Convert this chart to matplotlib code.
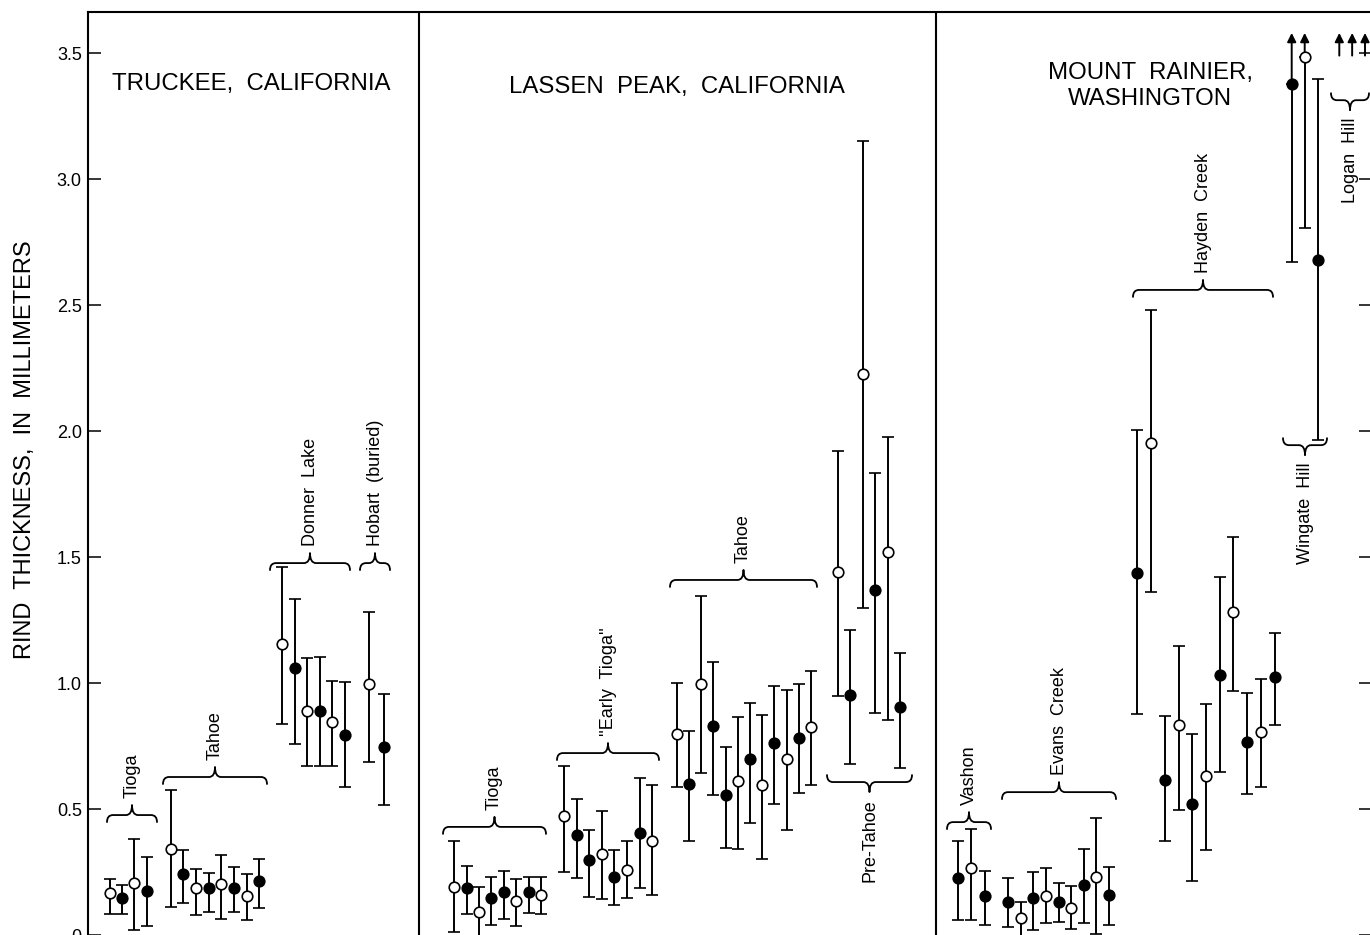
import matplotlib
matplotlib.use('Agg')
import matplotlib.pyplot as plt
from matplotlib.path import Path
from matplotlib.patches import PathPatch
import numpy as np

plt.rcParams['font.family'] = ['Liberation Sans', 'DejaVu Sans']

# ------------------------------------------------------------------ data
panel_titles = ['TRUCKEE,  CALIFORNIA', 'LASSEN  PEAK,  CALIFORNIA',
                'MOUNT  RAINIER,\nWASHINGTON']
y_label = 'RIND  THICKNESS,  IN  MILLIMETERS'
y_ticks = [0, 0.5, 1.0, 1.5, 2.0, 2.5, 3.0, 3.5]
y_tick_labels = ['0', '0.5', '1.0', '1.5', '2.0', '2.5', '3.0', '3.5']

group_labels = ['Tioga', 'Tahoe', 'Donner  Lake', 'Hobart  (buried)',
                'Tioga', "''Early  Tioga''", 'Tahoe', 'Pre-Tahoe',
                'Vashon', 'Evans  Creek', 'Hayden  Creek', 'Wingate  Hill',
                'Logan  Hill']

# Truckee, California
tr_tioga_mean = [0.165, 0.148, 0.208, 0.175]
tr_tioga_low = [0.083, 0.083, 0.02, 0.037]
tr_tioga_high = [0.222, 0.20, 0.382, 0.31]
tr_tioga_filled = [0, 1, 0, 1]

tr_tahoe_mean = [0.342, 0.242, 0.186, 0.188, 0.202, 0.188, 0.155, 0.214]
tr_tahoe_low = [0.11, 0.126, 0.079, 0.093, 0.062, 0.09, 0.06, 0.106]
tr_tahoe_high = [0.575, 0.336, 0.262, 0.245, 0.317, 0.268, 0.242, 0.303]
tr_tahoe_filled = [0, 1, 0, 1, 0, 1, 0, 1]

donner_mean = [1.153, 1.061, 0.89, 0.89, 0.844, 0.792]
donner_low = [0.838, 0.759, 0.669, 0.67, 0.669, 0.586]
donner_high = [1.46, 1.333, 1.098, 1.102, 1.009, 1.003]
donner_filled = [0, 1, 0, 1, 0, 1]

hobart_mean = [0.996, 0.747]
hobart_low = [0.688, 0.516]
hobart_high = [1.283, 0.956]
hobart_filled = [0, 1]

# Lassen Peak, California
la_tioga_mean = [0.192, 0.185, 0.093, 0.148, 0.172, 0.136, 0.172, 0.159]
la_tioga_low = [0.013, 0.083, -0.02, 0.04, 0.062, 0.036, 0.086, 0.083]
la_tioga_high = [0.373, 0.275, 0.189, 0.229, 0.255, 0.221, 0.231, 0.231]
la_tioga_filled = [0, 1, 0, 1, 1, 0, 1, 0]

early_mean = [0.473, 0.395, 0.298, 0.321, 0.231, 0.258, 0.403, 0.374]
early_low = [0.251, 0.225, 0.15, 0.142, 0.119, 0.146, 0.185, 0.159]
early_high = [0.671, 0.54, 0.417, 0.492, 0.337, 0.373, 0.622, 0.595]
early_filled = [0, 1, 1, 0, 1, 0, 1, 0]

la_tahoe_mean = [0.796, 0.599, 0.998, 0.831, 0.556, 0.611, 0.698, 0.595,
                 0.76, 0.698, 0.783, 0.827]
la_tahoe_low = [0.589, 0.373, 0.642, 0.556, 0.344, 0.34, 0.446, 0.302,
                0.52, 0.417, 0.565, 0.595]
la_tahoe_high = [1.001, 0.811, 1.345, 1.083, 0.747, 0.866, 0.919, 0.875,
                 0.989, 0.972, 0.996, 1.049]
la_tahoe_filled = [0, 1, 0, 1, 1, 0, 1, 0, 1, 0, 1, 0]

pre_tahoe_mean = [1.44, 0.952, 2.226, 1.369, 1.521, 0.903]
pre_tahoe_low = [0.948, 0.679, 1.298, 0.882, 0.853, 0.661]
pre_tahoe_high = [1.922, 1.21, 3.151, 1.835, 1.975, 1.12]
pre_tahoe_filled = [0, 1, 0, 1, 0, 1]

# Mount Rainier, Washington
vashon_mean = [0.225, 0.266, 0.153]
vashon_low = [0.06, 0.06, 0.04]
vashon_high = [0.374, 0.419, 0.255]
vashon_filled = [1, 0, 1]

evans_mean = [0.132, 0.069, 0.148, 0.155, 0.131, 0.106, 0.198, 0.231, 0.16]
evans_low = [0.03, -0.02, 0.02, 0.046, 0.05, 0.024, 0.046, 0.005, 0.04]
evans_high = [0.225, 0.129, 0.251, 0.265, 0.205, 0.196, 0.341, 0.466, 0.271]
evans_filled = [1, 0, 1, 0, 1, 0, 1, 0, 1]

hayden_mean = [1.435, 1.951, 0.615, 0.832, 0.519, 0.631, 1.032, 1.283,
               0.767, 0.806, 1.022]
hayden_low = [0.877, 1.362, 0.374, 0.496, 0.214, 0.337, 0.647, 0.968,
              0.56, 0.589, 0.833]
hayden_high = [2.004, 2.48, 0.87, 1.148, 0.796, 0.915, 1.422, 1.578,
               0.962, 1.016, 1.197]
hayden_filled = [1, 0, 1, 0, 1, 0, 1, 0, 1, 0, 1]

# np.inf = value runs off the top of the scale (drawn as an arrow)
wingate_mean = [3.377, 3.483, 2.679]
wingate_low = [2.672, 2.804, 1.964]
wingate_high = [np.inf, np.inf, 3.397]
wingate_filled = [1, 0, 1]

logan_mean = [np.inf, np.inf, np.inf]

groups = [
    (tr_tioga_mean, tr_tioga_low, tr_tioga_high, tr_tioga_filled),
    (tr_tahoe_mean, tr_tahoe_low, tr_tahoe_high, tr_tahoe_filled),
    (donner_mean, donner_low, donner_high, donner_filled),
    (hobart_mean, hobart_low, hobart_high, hobart_filled),
    (la_tioga_mean, la_tioga_low, la_tioga_high, la_tioga_filled),
    (early_mean, early_low, early_high, early_filled),
    (la_tahoe_mean, la_tahoe_low, la_tahoe_high, la_tahoe_filled),
    (pre_tahoe_mean, pre_tahoe_low, pre_tahoe_high, pre_tahoe_filled),
    (vashon_mean, vashon_low, vashon_high, vashon_filled),
    (evans_mean, evans_low, evans_high, evans_filled),
    (hayden_mean, hayden_low, hayden_high, hayden_filled),
    (wingate_mean, wingate_low, wingate_high, wingate_filled),
    (logan_mean, None, None, None),
]

# ------------------------------------------------------------------ layout
W, H, DPI = 1370, 935, 100
AX_LEFT_PX, AX_RIGHT_PX, AX_TOP_PX = 88, 1372, 12
Y_MAX = 3.663
# x axis is a plain horizontal position scale (no meaning); start, step
group_x = [(110, 12.2), (170.7, 12.66), (282.3, 12.54), (369, 15),
           (454.3, 12.39), (564, 12.6), (676.7, 12.2), (838, 12.4),
           (958, 13.3), (1008.3, 12.55), (1137.3, 13.74), (1291.7, 13),
           (1339.3, 12.85)]
# brace: x0, x1, y (mm), side
group_brace = [(107, 157, 0.476, 'up'), (163, 267, 0.627, 'up'),
               (270, 350, 1.476, 'up'), (360, 390, 1.476, 'up'),
               (443, 546, 0.429, 'up'), (557, 659, 0.722, 'up'),
               (670, 817, 1.409, 'up'), (827, 912, 0.607, 'down'),
               (947, 991, 0.448, 'up'), (1002, 1116, 0.567, 'up'),
               (1133, 1273, 2.56, 'up'), (1283, 1327, 1.944, 'down'),
               (1331, 1369, 3.313, 'down')]
panel_dividers = [419, 936]
title_pos = [(251.5, 3.377), (676.5, 3.365), (1150, 3.369)]
ARROW_TIP = 3.58
ARROW_BASE = 3.49

fig = plt.figure(figsize=(W / DPI, H / DPI), dpi=DPI)
ax = fig.add_axes([AX_LEFT_PX / W, 0, (AX_RIGHT_PX - AX_LEFT_PX) / W,
                   (H - AX_TOP_PX) / H])
ax.set_xlim(AX_LEFT_PX, AX_RIGHT_PX)
ax.set_ylim(0, Y_MAX)
px2y = Y_MAX / (H - AX_TOP_PX)

for s in ['left', 'top', 'right']:
    ax.spines[s].set_linewidth(1.5)
ax.spines['bottom'].set_visible(False)
ax.set_xticks([])
ax.set_yticks(y_ticks)
ax.set_yticklabels(y_tick_labels, fontsize=13)
ax.tick_params(axis='y', direction='in', length=9.5, width=1.1, pad=4.5,
               right=True, left=True)
ax.set_ylabel(y_label, fontsize=17)
ax.yaxis.set_label_coords(-(AX_LEFT_PX - 36) / (AX_RIGHT_PX - AX_LEFT_PX),
                          (H - 450) / (H - AX_TOP_PX))

for xd in panel_dividers:
    ax.axvline(xd, color='black', lw=1.5)

for (tx, ty), t in zip(title_pos, panel_titles):
    ax.text(tx, ty, t, ha='center', va='center', fontsize=17.3,
            linespacing=1.25)

EB = dict(ecolor='black', elinewidth=1.4, capsize=4.5, capthick=1.4,
          ms=7.6, mew=1.2, mec='black')


def brace(x0, x1, y, side, r=6, h_end=7, h_peak=10):
    s = 1 if side == 'up' else -1
    xm = 0.5 * (x0 + x1)
    verts = [(x0, y - s * h_end * px2y), (x0, y), (x0 + r, y),
             (xm - r, y), (xm, y), (xm, y + s * h_peak * px2y),
             (xm, y), (xm + r, y),
             (x1 - r, y), (x1, y), (x1, y - s * h_end * px2y)]
    codes = [Path.MOVETO, Path.CURVE3, Path.CURVE3, Path.LINETO,
             Path.CURVE3, Path.CURVE3, Path.CURVE3, Path.CURVE3,
             Path.LINETO, Path.CURVE3, Path.CURVE3]
    ax.add_patch(PathPatch(Path(verts, codes), fill=False, lw=1.3,
                           ec='black', capstyle='round', joinstyle='round'))
    return xm, y + s * (h_peak + 7) * px2y


for (mean, low, high, filled), (x_start, step), br, lab in zip(
        groups, group_x, group_brace, group_labels):
    xs = x_start + step * np.arange(len(mean))
    for i, x in enumerate(xs):
        m = mean[i]
        if low is None:
            ax.annotate('', xy=(x, ARROW_TIP), xytext=(x, ARROW_BASE),
                        arrowprops=dict(arrowstyle='-|>', color='black',
                                        lw=1.4, mutation_scale=13,
                                        shrinkA=0, shrinkB=0))
            continue
        lo = low[i]
        hi = high[i]
        fc = 'black' if filled[i] else 'white'
        if np.isinf(hi):
            ax.annotate('', xy=(x, ARROW_TIP), xytext=(x, m),
                        arrowprops=dict(arrowstyle='-|>', color='black',
                                        lw=1.4, mutation_scale=13,
                                        shrinkA=0, shrinkB=0))
            ax.errorbar([x], [m], yerr=[[m - lo], [0]], fmt='o', mfc=fc,
                        zorder=3, **EB)
        else:
            ax.errorbar([x], [m], yerr=[[m - lo], [hi - m]], fmt='o',
                        mfc=fc, zorder=3, **EB)
    x0, x1, yb, side = br
    tx, ty = brace(x0, x1, yb, side)
    ax.text(tx, ty, lab, rotation=90, ha='center',
            va='bottom' if side == 'up' else 'top', fontsize=13)

fig.savefig('out.png', dpi=DPI)
